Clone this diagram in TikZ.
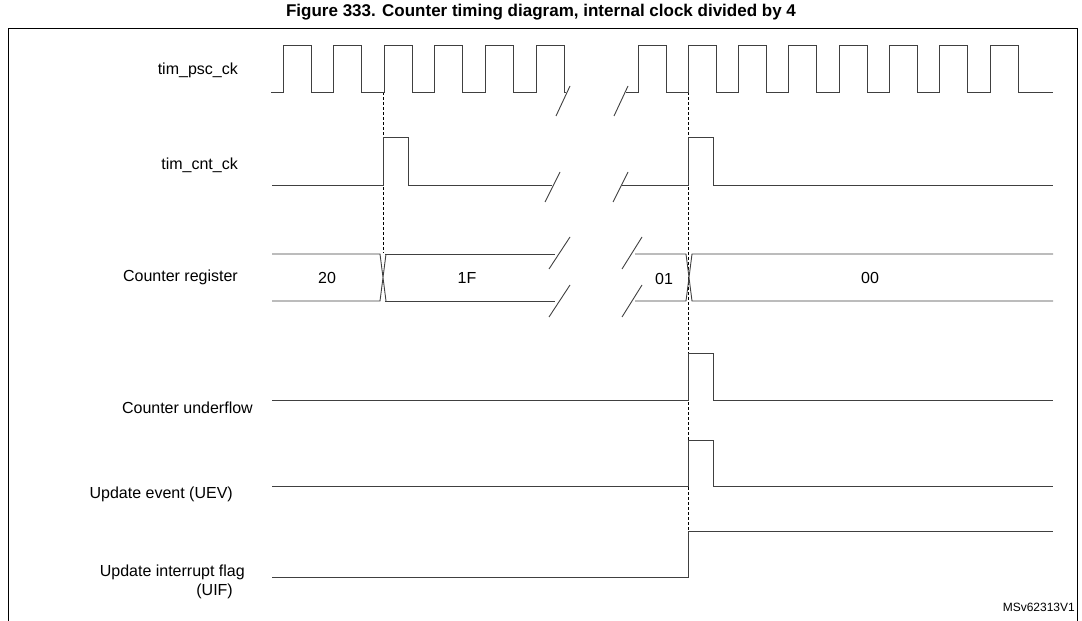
\documentclass[tikz,border=0pt]{standalone}
\usepackage{fontspec}
\setmainfont{Liberation Sans}
\begin{document}
\begin{tikzpicture}[x=1pt,y=-1pt,
  wave/.style={draw=black!75,line width=0.9pt},
  lbl/.style={anchor=east,font=\fontsize{16}{18}\selectfont,inner sep=0pt},
  val/.style={font=\fontsize{16}{18}\selectfont,inner sep=0pt},
  guide/.style={draw=black,line width=0.5pt,dash pattern=on 3pt off 2pt}]
\useasboundingbox (0,0) rectangle (1082,621);
\node[font=\bfseries\fontsize{17}{19}\selectfont,inner sep=0pt] (title) at (541,12) {Figure 333. Counter timing diagram, internal clock divided by 4};
\draw[line width=0.9pt] (8,640) -- (8,28) -- (1077,28) -- (1077,640);
% labels
\node[lbl] (l1) at (238,70) {tim\_psc\_ck};
\node[lbl] (l2) at (238,165) {tim\_cnt\_ck};
\node[lbl] (l3) at (238,277) {Counter register};
\node[lbl] (l4) at (253,408) {Counter underflow};
\node[lbl] (l5) at (233,494) {Update event (UEV)};
\node[lbl] (l6) at (245,572) {Update interrupt flag};
\node[lbl] (l7) at (233,591) {(UIF)};
\node[anchor=east,font=\fontsize{12}{14}\selectfont,inner sep=0pt] (ms) at (1075,607) {MSv62313V1};
% guides
\draw[guide] (383,92) -- (383,253);
\draw[guide] (688,92) -- (688,577);
% psc clock
\draw[wave] (271,92) \foreach \k in {0,...,5}{
  -- ({283+50.6*\k},92) -- ({283+50.6*\k},45) -- ({311+50.6*\k},45) -- ({311+50.6*\k},92)} -- (566,92);
\draw[wave] (556,116) -- (570,86);
\draw[wave] (614,116) -- (628,86);
\draw[wave] (626,92) \foreach \k in {0,...,7}{
  -- ({638+50.3*\k},92) -- ({638+50.3*\k},45) -- ({666+50.3*\k},45) -- ({666+50.3*\k},92)} -- (1053,92);
% cnt clock
\draw[wave] (272,185) -- (383,185) -- (383,137) -- (408,137) -- (408,185) -- (552,185);
\draw[wave] (545,202) -- (560,172);
\draw[wave] (613,202) -- (628,172);
\draw[wave] (622,185) -- (688,185) -- (688,137) -- (713,137) -- (713,185) -- (1053,185);
% counter register
\draw[wave] (272,254) -- (380,254) -- (386,301) (272,301) -- (380,301) -- (386,254);
\draw[wave] (385,254) -- (555,254) (385,301) -- (555,301);
\draw[wave] (549,269) -- (570,237);
\draw[wave] (549,317) -- (570,285);
\draw[wave] (622,269) -- (642,237);
\draw[wave] (622,317) -- (642,285);
\draw[wave] (635,254) -- (686,254) -- (692,301) -- (1053,301) (635,301) -- (686,301) -- (692,254) -- (1053,254);
\node[val] (v20) at (327,278) {20};
\node[val] (v1f) at (467,278) {1F};
\node[val] (v01) at (664,279) {01};
\node[val] (v00) at (870,278) {00};
% underflow
\draw[wave] (272,400) -- (688,400) -- (688,353) -- (713,353) -- (713,400) -- (1053,400);
% UEV
\draw[wave] (272,486) -- (688,486) -- (688,440) -- (713,440) -- (713,486) -- (1053,486);
% UIF
\draw[wave] (272,577) -- (688,577) -- (688,531) -- (1053,531);
\end{tikzpicture}
\end{document}
